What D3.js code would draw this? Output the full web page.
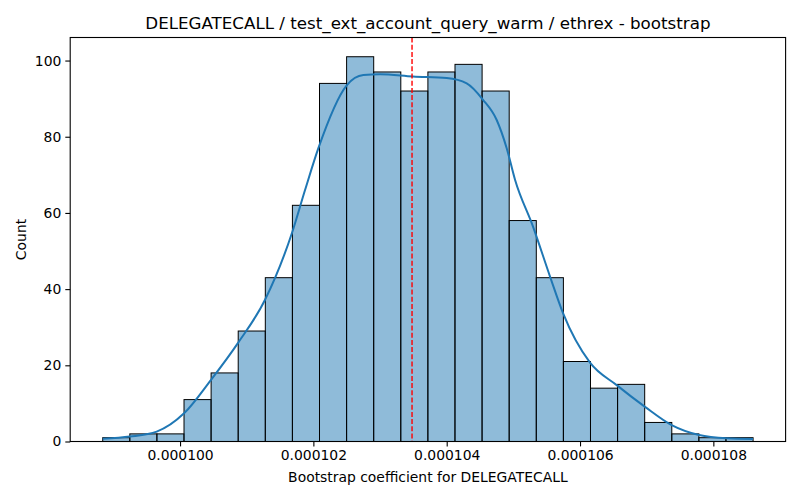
<!DOCTYPE html>
<html>
<head>
<meta charset="utf-8">
<script src="https://cdn.jsdelivr.net/npm/d3@7"></script>
<style>
  body { margin: 0; background: #fff; }
  svg { font-family: "DejaVu Sans", sans-serif; }
</style>
</head>
<body>
<svg id="chart" width="800" height="500"></svg>
<script>
// histogram bins (bootstrap coefficient) and counts
const binStart = 0.00009884;
const binWidth = 0.0000004065;
const counts = [1, 2, 2, 11, 18, 29, 43, 62, 94, 101, 97, 92, 97, 99, 92, 58, 43, 21, 14, 15, 5, 2, 1, 1];

// kde curve (x value, count)
const kdeX = [0.00009884, 0.00009925, 0.00009965, 0.00010006, 0.000100465, 0.00010087, 0.000101275,
  0.00010168, 0.000101875, 0.000102075, 0.0001025, 0.00010275, 0.000103, 0.000103495, 0.000104,
  0.0001043, 0.000104545, 0.00010475, 0.0001049, 0.000105025, 0.000105295, 0.00010555, 0.000105745,
  0.00010615, 0.00010655, 0.000106975, 0.000107375, 0.000107785, 0.0001082, 0.000108595];
const kdeY = [0.74, 1.3, 2.6, 7.4, 16.2, 25.9, 37.2, 54.8, 66, 77, 93.5, 96.2, 96.4, 95.8, 95.4,
  94, 89.7, 84.4, 77, 68.7, 56.4, 43.3, 33.7, 20.7, 14.8, 9.1, 4.3, 1.7, 0.84, 0.66];

const estimate = 0.00010348;
const xTicks = [0.000100, 0.000102, 0.000104, 0.000106, 0.000108];
const yTicks = [0, 20, 40, 60, 80, 100];

const title = 'DELEGATECALL / test_ext_account_query_warm / ethrex - bootstrap';
const xLabel = 'Bootstrap coefficient for DELEGATECALL';
const yLabel = 'Count';

const W = 800, H = 500;
const margin = {left: 70.2, right: 14.4, top: 37.5, bottom: 58.5};
const svg = d3.select('#chart');

const bins = counts.map((c, i) => ({x0: binStart + i*binWidth, x1: binStart + (i+1)*binWidth, n: c}));
const lo = binStart, hi = binStart + counts.length*binWidth;
const pad = (hi - lo)*0.05;

const x = d3.scaleLinear().domain([lo - pad, hi + pad]).range([margin.left, W - margin.right]);
const y = d3.scaleLinear().domain([0, d3.max(counts)*1.05]).range([H - margin.bottom, margin.top]);

// bars
svg.append('g').selectAll('rect')
  .data(bins)
  .enter()
  .append('rect')
  .attr('x', d => x(d.x0))
  .attr('y', d => y(d.n))
  .attr('width', d => x(d.x1) - x(d.x0))
  .attr('height', d => y(0) - y(d.n))
  .attr('fill', 'rgba(31,119,180,0.5)')
  .attr('stroke', '#000')
  .attr('stroke-width', 1);

// kde
const line = d3.line()
  .x((d, i) => x(kdeX[i]))
  .y(d => y(d))
  .curve(d3.curveMonotoneX);
svg.append('path')
  .attr('d', line(kdeY))
  .attr('fill', 'none')
  .attr('stroke', '#1f77b4')
  .attr('stroke-width', 2);

// estimate line
svg.append('line')
  .attr('x1', x(estimate)).attr('x2', x(estimate))
  .attr('y1', margin.top).attr('y2', H - margin.bottom)
  .style('stroke', 'red')
  .style('stroke-width', 1.4)
  .style('stroke-dasharray', '5,2.2');

// axes
const xAxis = svg.append('g')
  .attr('transform', `translate(0,${H - margin.bottom})`)
  .call(d3.axisBottom(x).tickValues(xTicks).tickFormat(d3.format('.6f')).tickSizeOuter(0).tickSize(4.9).tickPadding(4));
const yAxis = svg.append('g')
  .attr('transform', `translate(${margin.left},0)`)
  .call(d3.axisLeft(y).tickValues(yTicks).tickSizeOuter(0).tickSize(4.9).tickPadding(4));
[xAxis, yAxis].forEach(a => {
  a.select('.domain').remove();
  a.selectAll('.tick line').attr('stroke', '#000').attr('stroke-width', 1.1);
  a.selectAll('.tick text').attr('fill', '#000').style('font-size', '13.9px').style('font-family', '"DejaVu Sans", sans-serif');
});

// frame
svg.append('rect')
  .attr('x', margin.left).attr('y', margin.top)
  .attr('width', W - margin.left - margin.right)
  .attr('height', H - margin.top - margin.bottom)
  .attr('fill', 'none')
  .attr('stroke', '#000')
  .attr('stroke-width', 1.1);

// texts
svg.append('text')
  .attr('x', (margin.left + W - margin.right)/2).attr('y', 29)
  .attr('text-anchor', 'middle')
  .style('font-size', '16.7px')
  .text(title);
svg.append('text')
  .attr('x', (margin.left + W - margin.right)/2).attr('y', 482)
  .attr('text-anchor', 'middle')
  .style('font-size', '13.9px')
  .text(xLabel);
svg.append('text')
  .attr('transform', `translate(26,${(margin.top + H - margin.bottom)/2}) rotate(-90)`)
  .attr('text-anchor', 'middle')
  .style('font-size', '13.9px')
  .text(yLabel);
</script>
</body>
</html>
